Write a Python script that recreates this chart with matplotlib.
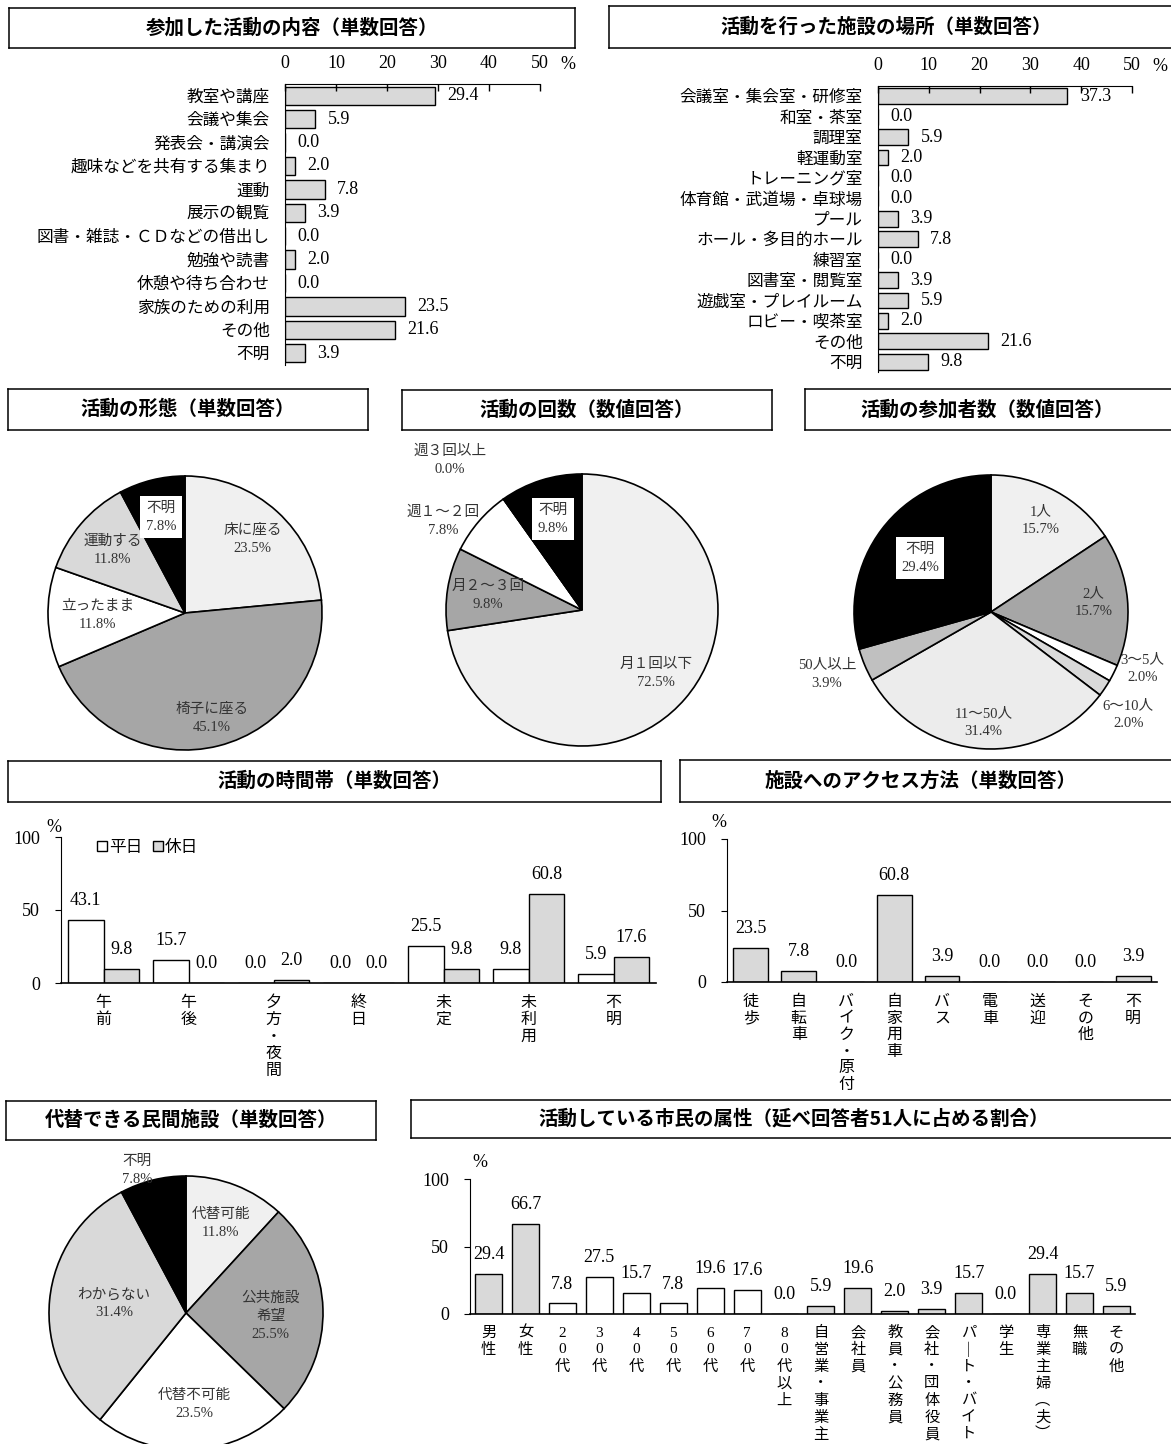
import numpy as np
import matplotlib
matplotlib.use('Agg')
import matplotlib.pyplot as plt

plt.rcParams['font.family'] = ['Liberation Serif', 'Noto Sans CJK JP', 'DejaVu Sans']
GOTHIC = ['Noto Sans CJK JP', 'DejaVu Sans']

# data
act_labels = ['教室や講座', '会議や集会', '発表会・講演会', '趣味などを共有する集まり', '運動', '展示の観覧',
              '図書・雑誌・ＣＤなどの借出し', '勉強や読書', '休憩や待ち合わせ', '家族のための利用', 'その他', '不明']
act_vals = [29.4, 5.9, 0.0, 2.0, 7.8, 3.9, 0.0, 2.0, 0.0, 23.5, 21.6, 3.9]

place_labels = ['会議室・集会室・研修室', '和室・茶室', '調理室', '軽運動室', 'トレーニング室',
                '体育館・武道場・卓球場', 'プール', 'ホール・多目的ホール', '練習室', '図書室・閲覧室',
                '遊戯室・プレイルーム', 'ロビー・喫茶室', 'その他', '不明']
place_vals = [37.3, 0.0, 5.9, 2.0, 0.0, 0.0, 3.9, 7.8, 0.0, 3.9, 5.9, 2.0, 21.6, 9.8]

style_labels = ['床に座る', '椅子に座る', '立ったまま', '運動する', '不明']
style_vals = [23.5, 45.1, 11.8, 11.8, 7.8]

freq_labels = ['月１回以下', '月２～３回', '週１～２回', '週３回以上', '不明']
freq_vals = [72.5, 9.8, 7.8, 0.0, 9.8]

num_labels = ['1人', '2人', '3～5人', '6～10人', '11～50人', '50人以上', '不明']
num_vals = [15.7, 15.7, 2.0, 2.0, 31.4, 3.9, 29.4]

time_labels = ['午前', '午後', '夕方・夜間', '終日', '未定', '未利用', '不明']
weekday_vals = [43.1, 15.7, 0.0, 0.0, 25.5, 9.8, 5.9]
holiday_vals = [9.8, 0.0, 2.0, 0.0, 9.8, 60.8, 17.6]

access_labels = ['徒歩', '自転車', 'バイク・原付', '自家用車', 'バス', '電車', '送迎', 'その他', '不明']
access_vals = [23.5, 7.8, 0.0, 60.8, 3.9, 0.0, 0.0, 0.0, 3.9]

alt_labels = ['代替可能', '公共施設\n希望', '代替不可能', 'わからない', '不明']
alt_vals = [11.8, 25.5, 23.5, 31.4, 7.8]

attr_labels = ['男性', '女性', '20代', '30代', '40代', '50代', '60代', '70代', '80代以上',
               '自営業・事業主', '会社員', '教員・公務員', '会社・団体役員', 'パート・バイト', '学生',
               '専業主婦（夫）', '無職', 'その他']
attr_vals = [29.4, 66.7, 7.8, 27.5, 15.7, 7.8, 19.6, 17.6, 0.0, 5.9, 19.6, 2.0, 3.9, 15.7, 0.0, 29.4, 15.7, 5.9]
attr_group = ['性別'] * 2 + ['年代'] * 7 + ['職業'] * 9

W, H = 1171, 1444
NUM_FS = 13
fig = plt.figure(figsize=(W / 100, H / 100), dpi=100)
VERT = str.maketrans({'ー': '｜', '（': '︵', '）': '︶'})


def px(x, y, w, h):
    return [x / W, 1 - (y + h) / H, w / W, h / H]


def title_box(x, y, w, h, text, cx=None):
    ax = fig.add_axes(px(x, y, w, h))
    ax.set_xticks([])
    ax.set_yticks([])
    for s in ax.spines.values():
        s.set_linewidth(1.1)
    tx = 0.5 if cx is None else (cx - x) / w
    ax.text(tx, 0.5, text, transform=ax.transAxes, ha='center', va='center',
            fontsize=14, fontweight='bold', family=GOTHIC)


def hbar(rect, labels, vals):
    ax = fig.add_axes(px(*rect))
    y = np.arange(len(labels))
    ax.barh(y, vals, height=0.78, color='#d9d9d9', edgecolor='black', linewidth=1)
    ax.set_xlim(0, 50)
    ax.set_ylim(len(labels) - 0.5, -0.5)
    ax.xaxis.tick_top()
    ax.set_xticks(range(0, 51, 10))
    ax.tick_params(axis='x', direction='in', length=5, width=1, pad=9, labelsize=NUM_FS)
    ax.set_yticks(y)
    ax.set_yticklabels(labels, fontsize=12)
    ax.tick_params(axis='y', length=0, pad=11)
    for s in ['right', 'bottom']:
        ax.spines[s].set_visible(False)
    for i, v in enumerate(vals):
        ax.annotate(f'{v:.1f}', (v, i), xytext=(9, 0), textcoords='offset points',
                    va='center', ha='left', fontsize=NUM_FS)
    ax.annotate('%', xy=(1, 1), xycoords='axes fraction', xytext=(20, 14),
                textcoords='offset points', ha='center', va='center', fontsize=NUM_FS)


def pie(cx, cy, r, labels, vals, colors, dist, shift, boxed):
    s = r * 1.02
    ax = fig.add_axes(px(cx - s, cy - s, 2 * s, 2 * s))
    wedges, _ = ax.pie(vals, colors=colors, startangle=90, counterclock=False,
                       wedgeprops=dict(edgecolor='black', linewidth=1.2))
    ax.set_xlim(-1.02, 1.02)
    ax.set_ylim(-1.02, 1.02)
    for w, lab, v, d, sh, b in zip(wedges, labels, vals, dist, shift, boxed):
        a = np.deg2rad((w.theta1 + w.theta2) / 2 + sh)
        bb = dict(facecolor='white', edgecolor='none', pad=4) if b else None
        ax.text(d * np.cos(a), d * np.sin(a), f'{lab}\n{v:.1f}%', ha='center', va='center',
                fontsize=10.5, linespacing=1.5, color='#333333', bbox=bb)


def vaxes(rect):
    ax = fig.add_axes(px(*rect))
    ax.set_ylim(0, 100)
    ax.set_yticks([0, 50, 100])
    ax.tick_params(axis='y', direction='out', length=4, pad=11, labelsize=NUM_FS)
    ax.set_xticks([])
    for s in ['top', 'right']:
        ax.spines[s].set_visible(False)
    ax.spines['bottom'].set_linewidth(1.2)
    return ax


def barvals(ax, xs, vals):
    for x, v in zip(xs, vals):
        ax.annotate(f'{v:.1f}', (x, v), xytext=(0, 14), textcoords='offset points',
                    ha='center', va='center', fontsize=NUM_FS)


def vlabels(ax, labels, top, step, fs):
    for i, lab in enumerate(labels):
        for j, ch in enumerate(lab.translate(VERT)):
            ax.annotate(ch, xy=(i, 0), xycoords=('data', 'axes fraction'),
                        xytext=(0, -(top + j * step)), textcoords='offset points',
                        ha='center', va='center', fontsize=fs)


# row 1: horizontal bars
title_box(9, 8, 566, 40, '参加した活動の内容（単数回答）')
hbar((285, 84, 255, 281), act_labels, act_vals)

title_box(609, 6, 600, 42, '活動を行った施設の場所（単数回答）', cx=886)
hbar((878, 86, 254, 286), place_labels, place_vals)

# row 2: pies
title_box(8, 389, 360, 41, '活動の形態（単数回答）')
pie(185, 613, 137, style_labels, style_vals,
    ['#f0f0f0', '#a6a6a6', 'white', '#d9d9d9', 'black'],
    [0.73, 0.79, 0.64, 0.70, 0.72], [0, 0, 0, 0, 0], [0, 0, 0, 0, 1])

title_box(402, 390, 370, 40, '活動の回数（数値回答）')
pie(582, 610, 136, freq_labels, freq_vals,
    ['#f0f0f0', '#a6a6a6', 'white', '#d9d9d9', 'black'],
    [0.72, 0.70, 1.21, 1.47, 0.70], [0, 0, 8, 6, 0], [0, 0, 0, 0, 1])

title_box(805, 389, 380, 41, '活動の参加者数（数値回答）', cx=987)
pie(991, 612, 137, num_labels, num_vals,
    ['#f0f0f0', '#a6a6a6', 'white', '#d9d9d9', '#ececec', '#c0c0c0', 'black'],
    [0.76, 0.75, 1.18, 1.25, 0.81, 1.28, 0.65], [0, 0, 6, -3, 0, -2, 0], [0, 0, 0, 0, 0, 0, 1])

# row 3: time of day
title_box(8, 761, 653, 41, '活動の時間帯（単数回答）')
ax = vaxes((61, 837, 595, 146))
x = np.arange(len(time_labels))
ax.bar(x - 0.21, weekday_vals, 0.42, color='white', edgecolor='black', linewidth=1, label='平日')
ax.bar(x + 0.21, holiday_vals, 0.42, color='#d9d9d9', edgecolor='black', linewidth=1, label='休日')
ax.set_xlim(-0.5, len(x) - 0.5)
barvals(ax, x - 0.21, weekday_vals)
barvals(ax, x + 0.21, holiday_vals)
vlabels(ax, time_labels, 14.4, 12.2, 11.5)
ax.legend(loc='center left', bbox_to_anchor=(0.035, 0.93), ncol=2, frameon=False,
          handlelength=0.6, handleheight=0.6, handletextpad=0.15, columnspacing=0.6,
          prop={'family': GOTHIC, 'size': 12})
ax.annotate('%', xy=(0, 1), xycoords='axes fraction', xytext=(-5, 7),
            textcoords='offset points', ha='center', va='center', fontsize=NUM_FS)

# access
title_box(680, 760, 520, 42, '施設へのアクセス方法（単数回答）', cx=921)
ax = vaxes((727, 839, 430, 143))
x = np.arange(len(access_labels))
ax.bar(x, access_vals, 0.73, color='#d9d9d9', edgecolor='black', linewidth=1)
ax.set_xlim(-0.5, len(x) - 0.5)
barvals(ax, x, access_vals)
vlabels(ax, access_labels, 14.4, 11.9, 11.5)
ax.annotate('%', xy=(0, 1), xycoords='axes fraction', xytext=(-6, 12),
            textcoords='offset points', ha='center', va='center', fontsize=NUM_FS)

# row 4: alternatives pie
title_box(6, 1101, 370, 39, '代替できる民間施設（単数回答）')
pie(186, 1313, 137, alt_labels, alt_vals,
    ['#f0f0f0', '#a6a6a6', 'white', '#d9d9d9', 'black'],
    [0.70, 0.62, 0.67, 0.53, 1.10], [0, -4, 2, -2, 5], [0, 0, 0, 0, 0])

# attributes
title_box(411, 1100, 780, 38, '活動している市民の属性（延べ回答者51人に占める割合）', cx=794)
ax = vaxes((470, 1179, 665, 135))
x = np.arange(len(attr_labels))
attr_colors = ['white' if g == '年代' else '#d9d9d9' for g in attr_group]
ax.bar(x, attr_vals, 0.73, color=attr_colors, edgecolor='black', linewidth=1)
ax.set_xlim(-0.5, len(x) - 0.5)
barvals(ax, x, attr_vals)
vlabels(ax, attr_labels, 13.7, 12.2, 11)
ax.annotate('%', xy=(0, 1), xycoords='axes fraction', xytext=(7, 12),
            textcoords='offset points', ha='center', va='center', fontsize=NUM_FS)

fig.savefig('out.png', dpi=100)
